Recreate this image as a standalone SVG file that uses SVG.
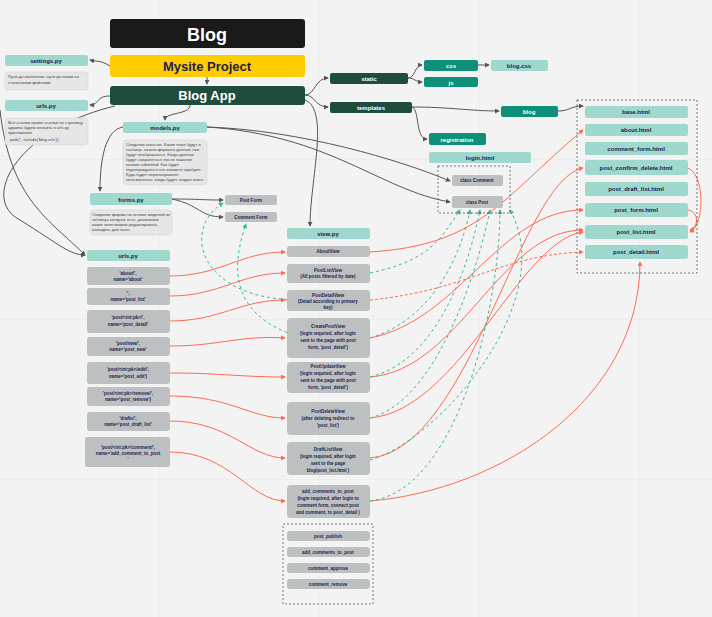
<svg xmlns="http://www.w3.org/2000/svg" width="712" height="617" viewBox="0 0 712 617">
<style>
text{font-family:"Liberation Sans",Arial,sans-serif;font-weight:bold;text-anchor:middle;fill:#1d2150}
.t{fill:#9fd8cc}.g{fill:#bcc0c0}.n{fill:#e6e6e6;stroke:#d4d4d4;stroke-width:.6}
.d{fill:#1e4d40}.m{fill:#0e8f78}
.s{font-size:6px}.xs{font-size:4.2px;font-weight:normal;text-anchor:start;fill:#444}
.w{fill:#fff}
.gc{fill:none;stroke:#555;stroke-width:1;marker-end:url(#ag)}
.rc{fill:none;stroke:#ff6b50;stroke-width:1;marker-end:url(#ar)}
.rd{fill:none;stroke:#ff6b50;stroke-width:1;stroke-dasharray:3 2;marker-end:url(#ar)}
.tc{fill:none;stroke:#3cb89a;stroke-width:1;stroke-dasharray:3 3;marker-end:url(#at)}
.box{fill:none;stroke:#555;stroke-width:.8;stroke-dasharray:2 2}
</style>
<defs>
<marker id="ag" viewBox="0 0 6 6" refX="5" refY="3" markerWidth="5" markerHeight="5" orient="auto"><path d="M0,0L6,3L0,6z" fill="#555"/></marker>
<marker id="ar" viewBox="0 0 6 6" refX="5" refY="3" markerWidth="5" markerHeight="5" orient="auto"><path d="M0,0L6,3L0,6z" fill="#ff6b50"/></marker>
<marker id="at" viewBox="0 0 6 6" refX="5" refY="3" markerWidth="5" markerHeight="5" orient="auto"><path d="M0,0L6,3L0,6z" fill="#3cb89a"/></marker>
<pattern id="grid" width="160" height="160" patternUnits="userSpaceOnUse"><path d="M160,0V160H0" fill="none" stroke="#e6e6e6" stroke-width="1"/></pattern>
</defs>
<rect width="712" height="617" fill="#f3f3f3"/>
<rect width="712" height="617" fill="url(#grid)"/>
<g id="connectors">
<path class="gc" d="M110,66 C100,60 98,62 90,60"/>
<path class="gc" d="M110,96 C95,96 100,105 90,105"/>
<path class="gc" d="M207,66 L207,84"/>
<path class="gc" d="M190,105 C190,115 165,112 165,120"/>
<path class="gc" d="M305,95 C315,95 315,78 328,78"/>
<path class="gc" d="M305,95 C315,95 315,107 328,107"/>
<path class="gc" d="M408,78 C415,78 415,65 422,65"/>
<path class="gc" d="M408,78 C415,78 415,82 422,82"/>
<path class="gc" d="M478,65 L489,65"/>
<path class="gc" d="M412,107 C450,107 470,111 499,111"/>
<path class="gc" d="M558,111 C570,111 570,106 583,106"/>
<path class="gc" d="M412,107 C420,110 415,139 427,139"/>
<path class="gc" d="M207,127 C300,130 400,160 450,181"/>
<path class="gc" d="M207,127 C330,135 380,190 450,202"/>
<path class="gc" d="M123,127 C105,130 100,160 100,191"/>
<path class="gc" d="M172,199 C200,199 200,200 223,200"/>
<path class="gc" d="M172,199 C200,205 200,217 223,217"/>
<path class="gc" d="M305,100 C330,110 310,180 310,226"/>
<path class="gc" d="M115,106 C15,130 -20,200 20,220 C60,245 70,255 85,255"/>
<path class="gc" d="M0,110 C10,200 50,220 85,255"/>
<g>
<path class="rc" d="M170,276 C220,276 240,252 285,252"/>
<path class="rc" d="M170,296 C220,296 240,273 285,273"/>
<path class="rc" d="M170,321 C220,321 240,300 285,300"/>
<path class="rc" d="M170,346 C220,346 240,335 285,338"/>
<path class="rc" d="M170,373 C220,373 240,377 285,377"/>
<path class="rc" d="M170,396 C230,396 250,418 285,418"/>
<path class="rc" d="M170,421 C230,421 250,458 285,458"/>
<path class="rc" d="M170,452 C230,452 250,501 285,501"/>
<path class="rc" d="M370,252 C480,245 500,200 583,130"/>
<path class="rc" d="M370,338 C460,320 500,210 583,210"/>
<path class="rc" d="M370,377 C460,370 500,230 583,230"/>
<path class="rc" d="M370,418 C460,410 520,240 583,232"/>
<path class="rc" d="M370,458 C470,450 520,180 583,168"/>
<path class="rc" d="M370,501 C500,490 640,400 640,262"/>
<path class="rd" d="M370,300 C470,290 500,255 583,252"/>
<path class="rc" d="M688,168 C705,175 705,225 690,232"/>
<path class="rc" d="M688,210 C700,212 698,228 690,230"/>
</g>
<g>
<path class="tc" d="M370,273 C430,260 440,240 460,210"/>
<path class="tc" d="M370,338 C430,320 460,260 470,210"/>
<path class="tc" d="M370,377 C440,360 470,260 480,210"/>
<path class="tc" d="M370,418 C440,400 480,260 490,210"/>
<path class="tc" d="M370,501 C460,490 500,300 500,210"/>
<path class="tc" d="M300,300 C200,300 180,230 223,203"/>
<path class="tc" d="M310,340 C230,320 230,270 246,224"/>
<path class="tc" d="M370,460 C440,440 560,300 510,210"/>
</g>
</g>
<g id="blog"><rect x="110" y="19" width="195" height="29" rx="3" fill="#1a1a1a"/><text x="207" y="41" font-size="18" class="w">Blog</text></g>
<g id="mysite"><rect x="110" y="55" width="195" height="22" rx="3" fill="#ffcc00"/><text x="207" y="71" font-size="13" fill="#1a1a1a">Mysite Project</text></g>
<g id="blogapp"><rect x="110" y="86" width="195" height="19" rx="3" class="d"/><text x="207" y="100" font-size="13" class="w">Blog App</text></g>
<g id="settings"><rect x="5" y="55" width="83" height="11" rx="2" class="t"/><text x="46" y="63" class="s">settings.py</text>
<rect x="5" y="72" width="83" height="18" rx="3" class="n"/><text x="8" y="78" class="xs">Пути до шаблонов, пути до папки со</text><text x="8" y="84" class="xs">статичными файлами</text></g>
<g id="urls1"><rect x="5" y="100" width="83" height="11" rx="2" class="t"/><text x="46" y="108" class="s">urls.py</text>
<rect x="5" y="118" width="83" height="27" rx="3" class="n"/><text x="8" y="124" class="xs">Все ссылки кроме ссылки на страницу</text><text x="8" y="129" class="xs">админа будем вносить в urls.py</text><text x="8" y="134" class="xs">приложения</text><text x="10" y="141" class="xs">path('', include('blog.urls')),</text></g>
<g id="models"><rect x="123" y="122" width="84" height="11" rx="2" class="t"/><text x="165" y="130" class="s">models.py</text>
<rect x="123" y="140" width="84" height="45" rx="4" class="n"/>
<text x="126" y="146" class="xs">Создание классов. Какие поля будут в</text><text x="126" y="151" class="xs">таблице, какого формата данные там</text><text x="126" y="156" class="xs">будут отображаться. Когда данные</text><text x="126" y="161" class="xs">будут сохраняться после нажатия</text><text x="126" y="166" class="xs">кнопки submitted. Как будет</text><text x="126" y="171" class="xs">подтверждаться что коммент одобрен.</text><text x="126" y="176" class="xs">Куда будет перенаправлен</text><text x="126" y="181" class="xs">пользователь, когда будет создан класс.</text></g>
<g id="forms"><rect x="90" y="193" width="82" height="12" rx="2" class="t"/><text x="131" y="202" class="s">forms.py</text>
<rect x="90" y="210" width="82" height="25" rx="4" class="n"/><text x="92" y="216" class="xs">Создание формы на основе моделей из</text><text x="92" y="221" class="xs">таблицы которые есть, указываем</text><text x="92" y="226" class="xs">какие поля можем редактировать,</text><text x="92" y="231" class="xs">выводить для поля</text></g>
<g id="postform"><rect x="225" y="195" width="52" height="10" rx="2" class="g"/><text x="251" y="202" font-size="4.5">Post Form</text></g>
<g id="commentform"><rect x="225" y="212" width="52" height="10" rx="2" class="g"/><text x="251" y="219" font-size="4.5">Comment Form</text></g>
<g id="static"><rect x="330" y="73" width="78" height="11" rx="2" class="d"/><text x="369" y="81" class="s w">static</text></g>
<g id="templates"><rect x="330" y="102" width="82" height="11" rx="2" class="d"/><text x="371" y="110" class="s w">templates</text></g>
<g id="css"><rect x="424" y="60" width="54" height="11" rx="2" class="m"/><text x="451" y="68" class="s w">css</text></g>
<g id="js"><rect x="424" y="77" width="54" height="10" rx="2" class="m"/><text x="451" y="85" class="s w">js</text></g>
<g id="blogcss"><rect x="491" y="60" width="57" height="11" rx="2" class="t"/><text x="519" y="68" class="s">blog.css</text></g>
<g id="blogdir"><rect x="501" y="106" width="57" height="11" rx="2" class="m"/><text x="529" y="114" class="s w">blog</text></g>
<g id="registration"><rect x="429" y="133" width="57" height="12" rx="2" class="m"/><text x="457" y="142" class="s w">registration</text></g>
<g id="login"><rect x="429" y="152" width="102" height="11" rx="2" class="t"/><text x="480" y="160" class="s">login.html</text></g>
<g id="classes"><rect x="438" y="166" width="72" height="47" class="box"/>
<rect x="452" y="175" width="51" height="11" rx="2" class="g"/><text x="477" y="182" font-size="4.5">class Comment</text>
<rect x="452" y="196" width="51" height="12" rx="2" class="g"/><text x="477" y="204" font-size="4.5">class Post</text></g>
<g id="htmls"><rect x="577" y="100" width="120" height="173" class="box"/>
<rect x="585" y="106" width="103" height="12" rx="2" class="t"/><text x="636" y="114" class="s">base.html</text>
<rect x="585" y="124" width="103" height="12" rx="2" class="t"/><text x="636" y="132" class="s">about.html</text>
<rect x="585" y="142" width="103" height="13" rx="2" class="t"/><text x="636" y="151" class="s">comment_form.html</text>
<rect x="585" y="160" width="103" height="15" rx="2" class="t"/><text x="636" y="170" class="s">post_confirm_delete.html</text>
<rect x="585" y="182" width="103" height="14" rx="2" class="t"/><text x="636" y="191" class="s">post_draft_list.html</text>
<rect x="585" y="203" width="103" height="14" rx="2" class="t"/><text x="636" y="212" class="s">post_form.html</text>
<rect x="585" y="225" width="103" height="14" rx="2" class="t"/><text x="636" y="234" class="s">post_list.html</text>
<rect x="585" y="245" width="103" height="14" rx="2" class="t"/><text x="636" y="254" class="s">post_detail.html</text></g>
<g id="urls2" font-size="4.5"><rect x="87" y="250" width="83" height="11" rx="2" class="t"/><text x="128" y="258" class="s">urls.py</text>
<rect x="87" y="267" width="83" height="18" rx="3" class="g"/><text x="128" y="275">'about/',</text><text x="128" y="281">name='about'</text>
<rect x="87" y="288" width="83" height="17" rx="3" class="g"/><text x="128" y="295">'',</text><text x="128" y="301">name='post_list'</text>
<rect x="87" y="310" width="83" height="23" rx="3" class="g"/><text x="128" y="319">'post/&lt;int:pk&gt;/',</text><text x="128" y="326">name='post_detail'</text>
<rect x="87" y="337" width="83" height="19" rx="3" class="g"/><text x="128" y="345">'post/new/',</text><text x="128" y="351">name='post_new'</text>
<rect x="87" y="362" width="83" height="22" rx="3" class="g"/><text x="128" y="371">'post/&lt;int:pk&gt;/edit/',</text><text x="128" y="378">name='post_edit')</text>
<rect x="87" y="387" width="83" height="19" rx="3" class="g"/><text x="128" y="395">'post/&lt;int:pk&gt;/remove/',</text><text x="128" y="401">name='post_remove')</text>
<rect x="87" y="412" width="83" height="19" rx="3" class="g"/><text x="128" y="420">'drafts/',</text><text x="128" y="426">name='post_draft_list'</text>
<rect x="85" y="437" width="85" height="30" rx="3" class="g"/><text x="128" y="449">'post/&lt;int:pk&gt;/comment/',</text><text x="128" y="455">name='add_comment_to_post</text><text x="128" y="461">'</text></g>
<g id="views" font-size="4.5"><rect x="287" y="228" width="83" height="11" rx="2" class="t"/><text x="328" y="236" class="s">view.py</text>
<rect x="287" y="246" width="83" height="11" rx="3" class="g"/><text x="328" y="253">AboutView</text>
<rect x="287" y="264" width="83" height="19" rx="3" class="g"/><text x="328" y="272">PostListView</text><text x="328" y="278">(All posts filtered by date)</text>
<rect x="287" y="290" width="83" height="21" rx="3" class="g"/><text x="328" y="297">PostDetailView</text><text x="328" y="303">(Detail according to primary</text><text x="328" y="309">key)</text>
<rect x="287" y="318" width="83" height="40" rx="4" class="g"/><text x="328" y="328">CreatePostView</text><text x="328" y="335">(login required, after login</text><text x="328" y="342">sent to the page with post</text><text x="328" y="349">form, 'post_detail')</text>
<rect x="287" y="362" width="83" height="31" rx="4" class="g"/><text x="328" y="368">PostUpdateView</text><text x="328" y="375">(login required, after login</text><text x="328" y="382">sent to the page with post</text><text x="328" y="389">form, 'post_detail')</text>
<rect x="287" y="402" width="83" height="33" rx="4" class="g"/><text x="328" y="413">PostDeleteView</text><text x="328" y="420">(after deleting redirect to</text><text x="328" y="427">'post_list')</text>
<rect x="287" y="442" width="83" height="33" rx="4" class="g"/><text x="328" y="451">DraftListView</text><text x="328" y="458">(login required, after login</text><text x="328" y="465">sent to the page</text><text x="328" y="472">blog/post_list.html )</text>
<rect x="287" y="485" width="83" height="33" rx="4" class="g"/><text x="328" y="493">add_comments_to_post</text><text x="328" y="500">(login required, after login to</text><text x="328" y="507">comment form, connect post</text><text x="328" y="514">and comment, to post_detail )</text></g>
<g id="extra" font-size="4.5"><rect x="283" y="524" width="90" height="80" class="box"/>
<rect x="287" y="531" width="83" height="10" rx="3" class="g"/><text x="328" y="538">post_publish</text>
<rect x="287" y="547" width="83" height="10" rx="3" class="g"/><text x="328" y="554">add_comments_to_post</text>
<rect x="287" y="563" width="83" height="10" rx="3" class="g"/><text x="328" y="570">comment_approve</text>
<rect x="287" y="579" width="83" height="10" rx="3" class="g"/><text x="328" y="586">comment_remove</text></g>
</svg>
